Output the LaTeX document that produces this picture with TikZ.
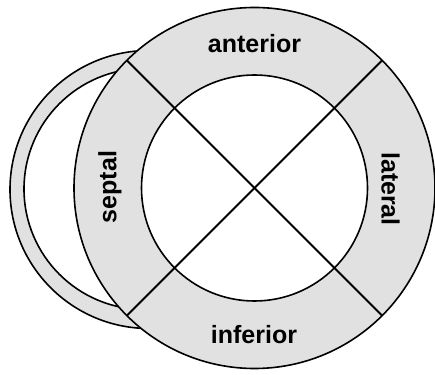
\documentclass[tikz,border=0pt]{standalone}
\usepackage{fontspec}
\setmainfont{Liberation Sans}
\usepackage{tikz}
\usetikzlibrary{calc}
\definecolor{wallfill}{HTML}{E1E1E1}
\definecolor{wallline}{HTML}{000000}

\begin{document}
\begin{tikzpicture}[x=1pt,y=1pt,
  wall/.style={draw=wallline,line width=1.6pt,fill=wallfill},
  cavity/.style={draw=wallline,line width=1.6pt,fill=white},
  seg/.style={draw=wallline,line width=2pt},
  lbl/.style={font=\fontsize{25}{28}\selectfont\bfseries,inner sep=0pt}]
  \useasboundingbox (0,0) rectangle (435,374);
  % right ventricle crescent
  \draw[wall]   (149,184.5) circle (139);
  \draw[cavity] (144.5,185) circle (120.5);
  % left ventricle ring
  \coordinate (c) at (254.5,186);
  \draw[wall]   (c) circle (180.5);
  \draw[cavity] (c) circle (113);
  \coordinate (ne) at ($(c)+(45:180.5)$);
  \coordinate (nw) at ($(c)+(135:180.5)$);
  \coordinate (sw) at ($(c)+(225:180.5)$);
  \coordinate (se) at ($(c)+(315:180.5)$);
  \draw[seg] (nw) -- (se);
  \draw[seg] (ne) -- (sw);
  \node[lbl,anchor=base] (ant) at (254.5,321) {anterior};
  \node[lbl,anchor=base] (inf) at (254,31) {inferior};
  \node[lbl,rotate=90] (sep) at (110,187) {septal};
  \node[lbl,rotate=-90] (lat) at (390.5,185) {lateral};
\end{tikzpicture}
\end{document}
